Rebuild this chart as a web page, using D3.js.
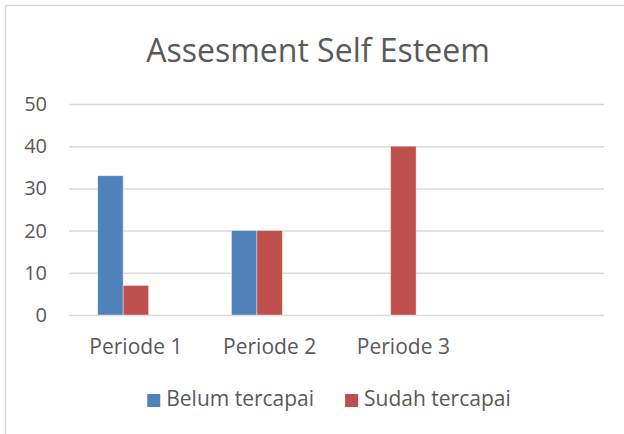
<!DOCTYPE html>
<html>
<head>
<meta charset="utf-8">
<script src="https://cdn.jsdelivr.net/npm/d3@7"></script>
<style>
  html, body { margin: 0; padding: 0; background: #fff; }
  svg { display: block; font-family: "Open Sans", sans-serif; }
</style>
</head>
<body>
<svg id="chart" width="624" height="434"></svg>
<script>
const title = 'Assesment Self Esteem';
const categories = ['Periode 1', 'Periode 2', 'Periode 3', ''];
const seriesNames = ['Belum tercapai', 'Sudah tercapai', ''];
const belumTercapai = [33, 20, 0, null];
const sudahTercapai = [7, 20, 40, null];
const emptySeries = [null, null, null, null];
const yTicks = [0, 10, 20, 30, 40, 50];

const COLORS = ['#4f81bd', '#c0504d', '#9bbb59'];
const TEXT = '#595959';
const GRID = '#d9d9d9';

const svg = d3.select('#chart');
const seriesValues = [belumTercapai, sudahTercapai, emptySeries];

// outer frame
svg.append('rect')
  .attr('x', 5.5).attr('y', 5.5)
  .attr('width', 640).attr('height', 450)
  .attr('fill', '#fff')
  .attr('stroke', GRID)
  .attr('stroke-width', 1.5);

svg.append('text')
  .attr('x', 318).attr('y', 62)
  .attr('text-anchor', 'middle')
  .attr('fill', TEXT)
  .attr('font-size', 32)
  .text(title);

const x = d3.scaleBand().domain(categories).range([69, 604]);
const xSeries = d3.scaleBand().domain(d3.range(seriesNames.length))
  .range([0, x.bandwidth()]).paddingOuter(1.13);
const y = d3.scaleLinear().domain([0, 50]).range([315, 104]);

// gridlines + y labels
const yAxis = svg.append('g')
  .attr('transform', 'translate(69,0)')
  .call(d3.axisLeft(y).tickValues(yTicks).tickSize(-535).tickPadding(22));
yAxis.select('.domain').remove();
yAxis.selectAll('line').attr('stroke', GRID).attr('stroke-width', 1.5);
yAxis.selectAll('text')
  .attr('fill', TEXT)
  .attr('font-size', 20)
  .attr('font-family', '"Open Sans", sans-serif');

// bars
const groups = svg.append('g').selectAll('g')
  .data(seriesValues)
  .join('g')
  .attr('fill', (d, i) => COLORS[i]);

groups.selectAll('rect')
  .data((vals, si) => vals.map((v, ci) => ({ v, ci, si })).filter(d => d.v))
  .join('rect')
  .attr('x', d => x(categories[d.ci]) + xSeries(d.si))
  .attr('width', xSeries.bandwidth())
  .attr('y', d => y(d.v))
  .attr('height', d => y(0) - y(d.v))
  .attr('stroke', '#fff')
  .attr('stroke-opacity', 0.5)
  .attr('stroke-width', 0.75);

// category labels
const xAxis = svg.append('g')
  .attr('transform', 'translate(0,315)')
  .call(d3.axisBottom(x).tickSize(0).tickPadding(24));
xAxis.select('.domain').remove();
xAxis.selectAll('text')
  .attr('fill', TEXT)
  .attr('font-size', 21)
  .attr('font-family', '"Open Sans", sans-serif');

// legend
const legendNames = seriesNames.filter(n => n);
const legend = svg.append('g');
let lx = 0;
legendNames.forEach((name, i) => {
  const g = legend.append('g').attr('transform', `translate(${lx},0)`);
  g.append('rect').attr('x', 0).attr('y', 394).attr('width', 13).attr('height', 13)
    .attr('fill', COLORS[i]);
  const t = g.append('text').attr('x', 19).attr('y', 406)
    .attr('fill', TEXT).attr('font-size', 21).text(name);
  lx += 19 + t.node().getComputedTextLength() + 31;
});
const lw = lx - 31;
legend.attr('transform', `translate(${329 - lw / 2},0)`);
</script>
</body>
</html>
